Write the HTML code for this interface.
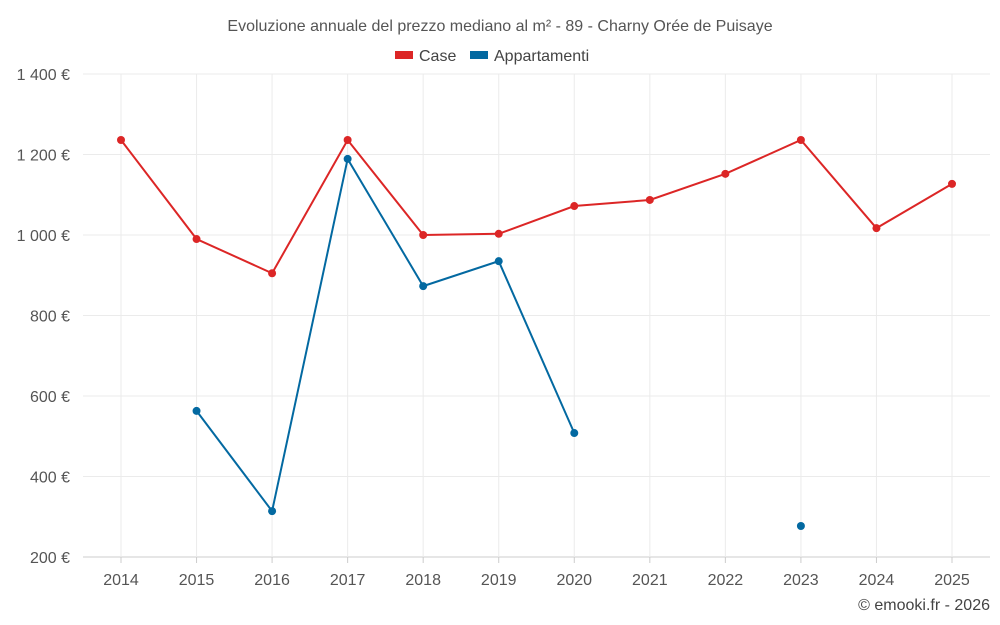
<!DOCTYPE html>
<html><head><meta charset="utf-8"><style>
body{margin:0;background:#fff;font-family:"Liberation Sans",sans-serif;}
svg{display:block}
</style></head><body>
<svg id="chart" width="1000" height="625" xmlns="http://www.w3.org/2000/svg">
<text x="500" y="31" text-anchor="middle" font-size="16" fill="#555">Evoluzione annuale del prezzo mediano al m² - 89 - Charny Orée de Puisaye</text>
<g>
<rect x="395" y="51" width="18" height="8" fill="#dc2626"/>
<text x="419" y="61" font-size="16" fill="#444">Case</text>
<rect x="470" y="51" width="18" height="8" fill="#0369a1"/>
<text x="494" y="61" font-size="16" fill="#444">Appartamenti</text>
</g>
<g id="grid"></g><g id="axes"></g><g id="series"></g>
<text x="990" y="610" text-anchor="end" font-size="16" fill="#444">© emooki.fr - 2026</text>
</svg>
<script>
const years=[2014,2015,2016,2017,2018,2019,2020,2021,2022,2023,2024,2025];
const caseValues=[1236,990,905,1236,1000,1003,1072,1087,1152,1236,1017,1127];
const apptValues=[null,563,314,1189,873,935,508,null,null,277,null,null];
const yTicks=[200,400,600,800,1000,1200,1400];
const yTickLabels=["200 €","400 €","600 €","800 €","1 000 €","1 200 €","1 400 €"];
const NS="http://www.w3.org/2000/svg";
const L=83,R=990,T=74,B=557;
const x=i=>121+i*(952-121)/(years.length-1);
const y=v=>B-(v-200)/(1400-200)*(B-T);
function mk(tag,attrs,parent){const e=document.createElementNS(NS,tag);for(const k in attrs)e.setAttribute(k,attrs[k]);parent.appendChild(e);return e;}
const grid=document.getElementById('grid'),axes=document.getElementById('axes'),ser=document.getElementById('series');
yTicks.forEach((t,i)=>{
 const g=mk('line',{x1:L,x2:R,y1:y(t),y2:y(t),stroke:i===0?'#ccc':'#ebebeb'},grid);
 
 
 const tx=mk('text',{x:70,y:y(t)+6,'text-anchor':'end','font-size':16,fill:'#555'},axes);
 tx.textContent=yTickLabels[i];
 
 
});
years.forEach((yr,i)=>{
 const g=mk('line',{x1:x(i),x2:x(i),y1:T,y2:B,stroke:'#ebebeb'},grid);
 
 
 const tk=mk('line',{x1:x(i),x2:x(i),y1:B,y2:B+6,stroke:'#ccc'},axes);
 
 
 const tx=mk('text',{x:x(i),y:585,'text-anchor':'middle','font-size':16,fill:'#555'},axes);
 tx.textContent=yr;
 
 
});
function draw(vals,color,name){
 let d='',pen=false;
 vals.forEach((v,i)=>{if(v==null){pen=false;return;}d+=(pen?'L':'M')+x(i)+' '+y(v)+' ';pen=true;});
 const p=mk('path',{d:d,fill:'none',stroke:color,'stroke-width':2},ser);
 
 
 vals.forEach((v,i)=>{if(v==null)return;
  const c=mk('circle',{cx:x(i),cy:y(v),r:4,fill:color},ser);
  
  
 });
}
draw(caseValues,'#dc2626','case');
draw(apptValues,'#0369a1','appartamenti');
</script>
</body></html>
